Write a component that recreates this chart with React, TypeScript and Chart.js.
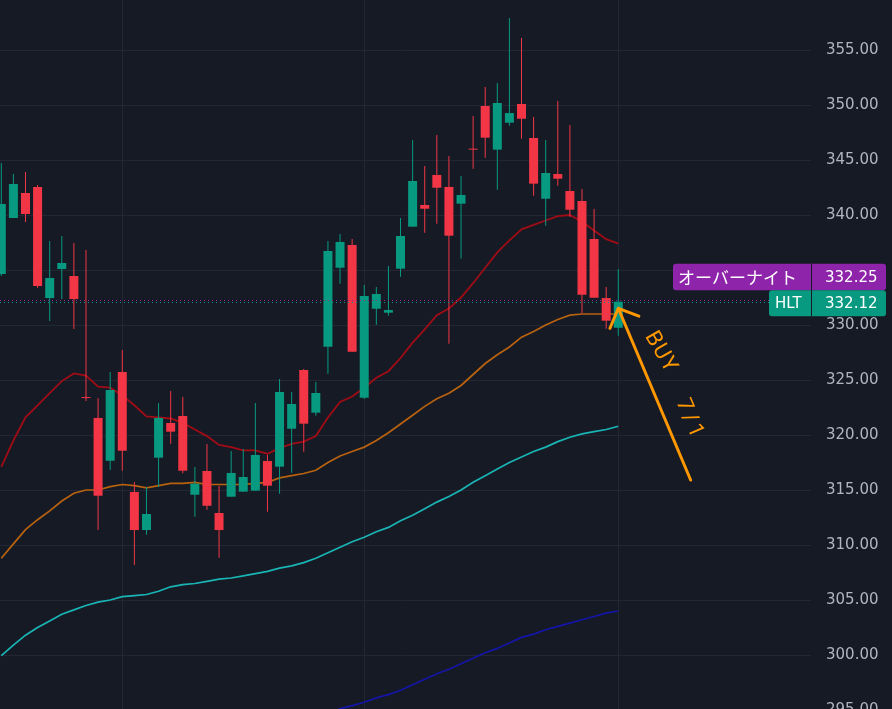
import React, { useEffect, useRef } from "react";
import { Chart, registerables } from "chart.js";

Chart.register(...registerables);

// ---- data ----
const opens = [334.64, 339.73, 342.0, 342.55, 332.45, 335.09, 334.45, 323.45, 321.55, 317.66, 325.73, 314.82, 311.36, 317.94, 321.09, 321.73, 314.57, 316.73, 312.91, 314.39, 314.85, 314.94, 317.64, 317.12, 320.57, 325.91, 322.03, 328.03, 335.21, 337.27, 323.39, 331.48, 331.12, 335.12, 338.94, 340.91, 343.64, 342.55, 341.03, 346.0, 349.91, 345.94, 348.39, 350.09, 347.0, 341.48, 343.73, 342.18, 341.27, 337.82, 332.45, 329.75];
const highs = [344.73, 343.73, 343.91, 342.73, 337.64, 338.09, 337.45, 336.82, 323.34, 325.73, 327.73, 315.73, 315.27, 322.91, 324.0, 323.45, 317.09, 319.18, 315.39, 318.55, 318.73, 322.91, 318.18, 325.09, 323.91, 326.0, 324.82, 337.64, 338.27, 337.82, 333.64, 333.45, 335.36, 339.73, 346.82, 344.45, 347.27, 345.36, 343.55, 349.0, 351.64, 352.0, 357.91, 356.09, 348.91, 346.82, 350.36, 348.18, 342.36, 340.55, 333.45, 335.09];
const lows = [334.45, 339.73, 339.36, 333.36, 330.36, 332.36, 329.64, 323.09, 311.36, 316.82, 316.75, 308.18, 310.94, 315.27, 319.21, 316.52, 312.57, 313.21, 308.85, 314.39, 314.85, 314.94, 313.03, 314.66, 316.57, 318.48, 321.75, 325.57, 333.75, 327.57, 323.27, 330.03, 330.85, 334.39, 338.94, 338.39, 339.21, 328.3, 336.03, 344.21, 345.21, 342.3, 348.12, 346.94, 341.75, 339.03, 342.67, 339.85, 331.06, 332.48, 329.66, 329.03];
const closes = [341.0, 342.82, 340.09, 333.55, 334.27, 335.64, 332.36, 323.36, 314.48, 324.09, 318.57, 311.36, 312.82, 321.55, 320.3, 316.75, 315.57, 313.57, 311.36, 316.55, 316.18, 318.18, 315.39, 323.91, 322.82, 321.03, 323.82, 336.73, 337.55, 327.57, 332.64, 332.82, 331.36, 338.09, 343.09, 340.57, 342.48, 338.12, 341.82, 345.94, 347.03, 350.18, 349.27, 348.75, 342.85, 343.82, 343.3, 340.48, 332.75, 332.48, 330.39, 332.12];

const maShort = [317.1, 319.5, 321.6, 322.7, 323.8, 324.9, 325.6, 325.4, 324.4, 324.3, 323.6, 322.7, 321.7, 321.6, 321.5, 321.1, 320.5, 319.9, 319.1, 318.9, 318.6, 318.6, 318.3, 318.8, 319.2, 319.4, 319.9, 321.6, 323.0, 323.5, 324.3, 325.2, 325.8, 327.0, 328.4, 329.6, 330.9, 331.5, 332.5, 333.8, 335.2, 336.6, 337.7, 338.7, 339.1, 339.5, 339.9, 340.0, 339.4, 338.6, 337.8, 337.4];
const maMid = [308.8, 310.1, 311.4, 312.3, 313.1, 314.0, 314.7, 315.0, 315.0, 315.3, 315.5, 315.4, 315.2, 315.4, 315.6, 315.6, 315.7, 315.5, 315.5, 315.5, 315.5, 315.6, 315.7, 316.1, 316.3, 316.5, 316.8, 317.5, 318.1, 318.5, 318.9, 319.5, 320.2, 321.0, 321.8, 322.6, 323.3, 323.8, 324.5, 325.5, 326.5, 327.3, 328.0, 328.9, 329.4, 330.0, 330.5, 330.9, 331.0, 331.0, 331.0, 331.0];
const maLong = [299.95, 300.9, 301.8, 302.5, 303.1, 303.7, 304.1, 304.5, 304.8, 305.0, 305.3, 305.4, 305.5, 305.8, 306.2, 306.4, 306.5, 306.7, 306.9, 307.0, 307.2, 307.4, 307.6, 307.9, 308.1, 308.4, 308.8, 309.3, 309.8, 310.3, 310.7, 311.2, 311.6, 312.2, 312.7, 313.3, 313.9, 314.4, 315.0, 315.7, 316.3, 316.9, 317.5, 318.0, 318.5, 318.9, 319.4, 319.8, 320.1, 320.3, 320.5, 320.8];
const maVeryLongStart = 24;
const maVeryLong = [293.5, 293.9, 294.4, 294.8, 295.1, 295.4, 295.7, 296.1, 296.4, 296.8, 297.3, 297.8, 298.3, 298.7, 299.2, 299.7, 300.2, 300.6, 301.1, 301.6, 301.9, 302.3, 302.6, 302.9, 303.2, 303.5, 303.8, 304.0];

const yTicks = [295, 300, 305, 310, 315, 320, 325, 330, 335, 340, 345, 350, 355, 360];
const xGridIdx = [10, 30, 51];

const overnightLabel = "オーバーナイト";
const overnightPrice = 332.25;
const symbolLabel = "HLT";
const lastPrice = 332.12;

// annotation (index, price) anchors
const arrowTip = { i: 51, p: 331.52 };
const arrowTail = { i: 56.98, p: 315.91 };
const arrowBarbA = { i: 50.31, p: 329.7 };
const arrowBarbB = { i: 52.7, p: 330.8 };
const noteBuy = { text: "BUY", i: 54.5, p: 327.5, angle: 60 };
const noteDate = { text: "7/1", i: 56.9, p: 321.4, angle: 67 };

// view range
const X_MIN = -0.1075;
const X_MAX = 66.93;
const Y_MIN = 293.182;
const Y_MAX = 361.364;

const BG = "#161a25";
const GRID = "#232633";
const UP = "#089981";
const DOWN = "#f23645";
const PURPLE = "#8e24aa";

export default function App() {
  const ref = useRef<HTMLCanvasElement | null>(null);

  useEffect(() => {
    document.body.style.margin = "0";
    document.body.style.background = BG;
    const canvas = ref.current!;
    const colors = opens.map((o, i) => (closes[i] >= o ? UP : DOWN));

    const overlay = {
      id: "overlay",
      beforeDraw(chart: any) {
        const ctx = chart.ctx;
        ctx.save();
        ctx.fillStyle = BG;
        ctx.fillRect(0, 0, chart.width, chart.height);
        ctx.restore();
      },
      afterDraw(chart: any) {
        const ctx = chart.ctx as CanvasRenderingContext2D;
        const xs = chart.scales.x;
        const ys = chart.scales.y;
        const area = chart.chartArea;
        const X = (i: number) => xs.getPixelForValue(i);
        const Y = (p: number) => ys.getPixelForValue(p);

        // dotted price lines
        ctx.save();
        ctx.lineWidth = 1;
        ctx.setLineDash([1, 3]);
        const lines: [number, string][] = [
          [overnightPrice, PURPLE],
          [lastPrice, UP],
        ];
        for (const [p, c] of lines) {
          const y = Math.round(Y(p)) + 0.5;
          ctx.strokeStyle = c;
          ctx.beginPath();
          ctx.moveTo(area.left, y);
          ctx.lineTo(area.right, y);
          ctx.stroke();
        }
        ctx.restore();

        // arrow annotation
        ctx.save();
        ctx.strokeStyle = "#ff9800";
        ctx.fillStyle = "#ff9800";
        ctx.lineWidth = 3;
        ctx.lineCap = "round";
        ctx.lineJoin = "round";
        ctx.beginPath();
        ctx.moveTo(X(arrowTail.i), Y(arrowTail.p));
        ctx.lineTo(X(arrowTip.i), Y(arrowTip.p));
        ctx.moveTo(X(arrowBarbA.i), Y(arrowBarbA.p));
        ctx.lineTo(X(arrowTip.i), Y(arrowTip.p));
        ctx.lineTo(X(arrowBarbB.i), Y(arrowBarbB.p));
        ctx.stroke();
        for (const n of [noteBuy, noteDate]) {
          ctx.save();
          ctx.translate(X(n.i), Y(n.p));
          ctx.rotate((n.angle * Math.PI) / 180);
          ctx.font = "22px Roboto";
          (ctx as any).letterSpacing = n === noteDate ? "3px" : "1px";
          ctx.textAlign = "center";
          ctx.textBaseline = "middle";
          ctx.fillText(n.text, 0, 0);
          ctx.restore();
        }
        ctx.restore();

        // price labels on the axis
        const right = area.right;
        const boxRight = right + 75;
        const hTop = Y(lastPrice) - 13 + 1.5;
        const hH = 26;
        const pH = 26.5;
        const pTop = hTop - pH;
        const rr = (x: number, y: number, w: number, h: number, r: number, c: string) => {
          ctx.fillStyle = c;
          ctx.beginPath();
          ctx.roundRect(x, y, w, h, r);
          ctx.fill();
        };
        ctx.save();
        rr(right - 138, pTop, boxRight - (right - 138), pH, 3, PURPLE);
        rr(right - 42, hTop, boxRight - (right - 42), hH, 3, UP);
        ctx.fillStyle = BG;
        ctx.fillRect(right, pTop, 1, pH + hH);
        ctx.fillStyle = "#ffffff";
        ctx.textBaseline = "middle";
        ctx.textAlign = "left";
        ctx.font = "17px 'Noto Sans CJK JP'";
        ctx.fillText(overnightLabel, right - 133, pTop + pH / 2 + 1);
        ctx.font = "15px 'DejaVu Sans'";
        ctx.fillText(symbolLabel, right - 36, hTop + hH / 2 + 1);
        ctx.fillText(overnightPrice.toFixed(2), right + 14, pTop + pH / 2 + 1);
        ctx.fillText(lastPrice.toFixed(2), right + 14, hTop + hH / 2 + 1);
        ctx.restore();
      },
    };

    const idx = (arr: (number | null)[], start = 0) => arr.map((v, k) => ({ x: k + start, y: v }));
    const hiddenLo = lastPrice - 1.3;
    const hiddenHi = overnightPrice + 3.4;

    const chart = new Chart(canvas, {
      type: "bar",
      data: {
        datasets: [
          { type: "line", data: idx(maVeryLong, maVeryLongStart), borderColor: "#1515a8", borderWidth: 1.7, pointRadius: 0, order: 5 } as any,
          { type: "line", data: idx(maLong), borderColor: "#19b5b5", borderWidth: 1.7, pointRadius: 0, order: 5 } as any,
          { type: "line", data: idx(maMid), borderColor: "#b8620f", borderWidth: 1.7, pointRadius: 0, order: 5 } as any,
          { type: "line", data: idx(maShort), borderColor: "#a00c15", borderWidth: 1.8, pointRadius: 0, order: 5 } as any,
          {
            type: "bar",
            data: lows.map((l, i) => ({ x: i, y: [l, highs[i]] })),
            backgroundColor: colors,
            barThickness: 1,
            grouped: false,
            inflateAmount: 0,
            order: 2,
          } as any,
          {
            type: "bar",
            data: opens.map((o, i) => ({ x: i, y: [o, closes[i]] })),
            backgroundColor: colors,
            barThickness: 9,
            minBarLength: 1,
            grouped: false,
            inflateAmount: 0,
            order: 1,
          } as any,
        ],
      },
      options: {
        animation: false,
        responsive: false,
        maintainAspectRatio: false,
        devicePixelRatio: 1,
        layout: { padding: 0 },
        plugins: { legend: { display: false }, tooltip: { enabled: false } },
        scales: {
          x: {
            type: "linear",
            min: X_MIN,
            max: X_MAX,
            bounds: "data",
            offset: false,
            grid: { color: GRID, drawTicks: false, offset: false },
            border: { display: false },
            ticks: { display: false },
            afterBuildTicks: (s: any) => {
              s.ticks = xGridIdx.map((v) => ({ value: v }));
            },
            afterFit: (s: any) => {
              s.height = 0;
              s.paddingLeft = 0;
              s.paddingRight = 0;
            },
          },
          y: {
            type: "linear",
            position: "right",
            min: Y_MIN,
            max: Y_MAX,
            bounds: "data",
            grid: { color: GRID, drawTicks: false },
            border: { display: false },
            ticks: {
              color: "#b2b5be",
              font: { family: "'DejaVu Sans'", size: 15 },
              padding: 15,
              callback: (v: any) => {
                const n = Number(v);
                return n > hiddenLo && n < hiddenHi ? "" : n.toFixed(2);
              },
            },
            afterBuildTicks: (s: any) => {
              s.ticks = yTicks.map((v) => ({ value: v }));
            },
            afterFit: (s: any) => {
              s.width = 81;
              s.paddingTop = 0;
              s.paddingBottom = 0;
            },
          },
        },
      } as any,
      plugins: [overlay],
    });
    return () => chart.destroy();
  }, []);

  return (
    <div style={{ position: "absolute", left: 0, top: -20, width: 892, height: 750, background: BG }}>
      <canvas ref={ref} width={892} height={750} style={{ display: "block", width: 892, height: 750 }} />
    </div>
  );
}
